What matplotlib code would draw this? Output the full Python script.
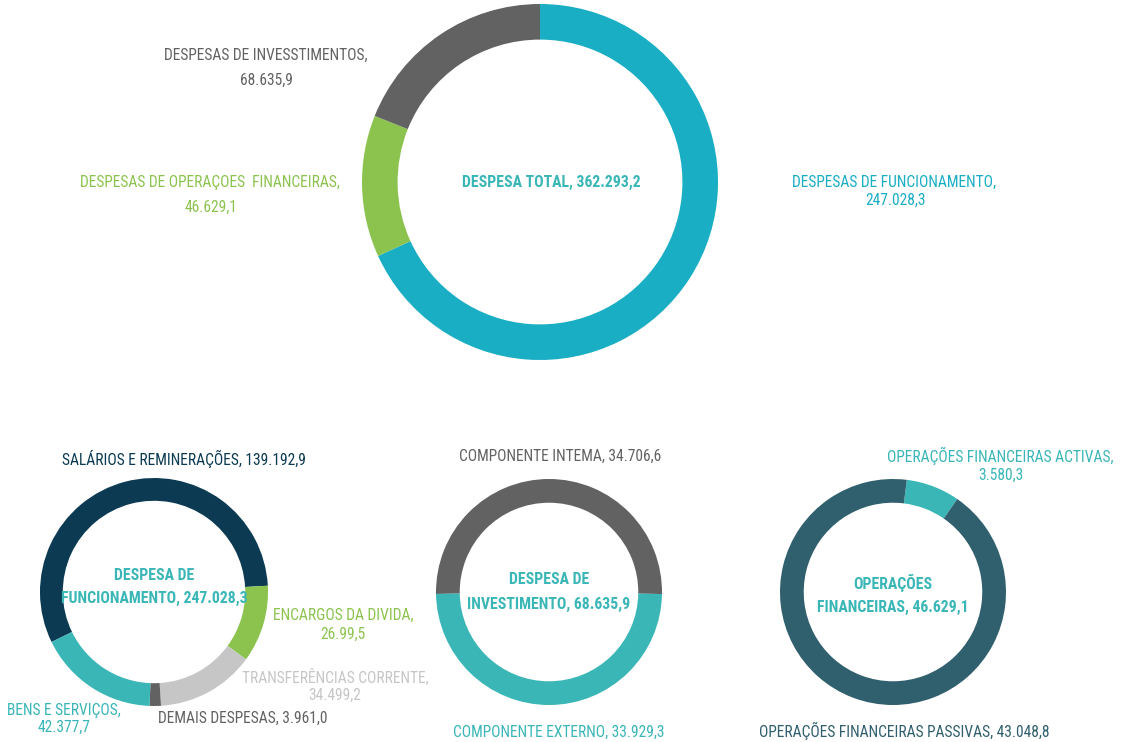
import matplotlib
matplotlib.use("Agg")
import matplotlib.pyplot as plt

W, H = 1126, 742
plt.rcParams['font.family'] = ['Roboto Condensed', 'DejaVu Sans']
plt.rcParams['font.stretch'] = 'condensed'

# ---- data ----
top_labels = ["DESPESAS DE FUNCIONAMENTO", "DESPESAS DE OPERAÇOES  FINANCEIRAS", "DESPESAS DE INVESSTIMENTOS"]
top_values = [247028.3, 46629.1, 68635.9]

func_labels = ["SALÁRIOS E REMINERAÇÕES", "ENCARGOS DA DIVIDA", "TRANSFERÊNCIAS CORRENTE", "DEMAIS DESPESAS", "BENS E SERVIÇOS"]
func_values = [139192.9, 26997.5, 34499.2, 3961.0, 42377.7]

inv_labels = ["COMPONENTE INTEMA", "COMPONENTE EXTERNO"]
inv_values = [34706.6, 33929.3]

fin_labels = ["OPERAÇÕES FINANCEIRAS ACTIVAS", "OPERAÇÕES FINANCEIRAS PASSIVAS"]
fin_values = [3580.3, 43048.8]

CYAN = "#19AEC4"
TEAL = "#3AB6B7"
GREEN = "#8CC34E"
GRAY = "#626262"
NAVY = "#0B3A52"
LGRAY = "#C6C6C6"
SLATE = "#305F6D"

NS = 11.2   # normal size
BS = 11.3   # bold size

fig = plt.figure(figsize=(W / 100, H / 100), dpi=100)
fig.patch.set_facecolor("white")


def donut(cx, cy, r, values, colors, start, width):
    ax = fig.add_axes([(cx - r) / W, 1 - (cy + r) / H, 2 * r / W, 2 * r / H])
    ax.pie(values, colors=colors, startangle=start, counterclock=False,
           radius=1, wedgeprops=dict(width=width, edgecolor="none"))
    ax.set_xlim(-1, 1)
    ax.set_ylim(-1, 1)
    ax.set_aspect("equal")
    ax.axis("off")
    return ax


def txt(x, y, s, color, bold=False):
    fig.text(x / W, 1 - y / H, s, color=color, fontsize=BS if bold else NS,
             ha="center", va="center", fontstretch="condensed",
             fontweight="bold" if bold else "normal")


# top donut
donut(540, 182, 178, top_values, [CYAN, GREEN, GRAY], 90, 0.2)
txt(266, 55, "DESPESAS DE INVESSTIMENTOS,", GRAY)
txt(266, 80, "68.635,9", GRAY)
txt(210, 182, "DESPESAS DE OPERAÇOES  FINANCEIRAS,", GREEN)
txt(211, 207, "46.629,1", GREEN)
txt(551, 182, "DESPESA TOTAL, 362.293,2", TEAL, True)
txt(894, 182, "DESPESAS DE FUNCIONAMENTO,", CYAN)
txt(896, 200, "247.028,3", CYAN)

# bottom left donut
donut(154, 592, 114, func_values, [NAVY, GREEN, LGRAY, GRAY, TEAL], 206, 0.2)
txt(184, 459, "SALÁRIOS E REMINERAÇÕES, 139.192,9", NAVY)
txt(154, 575, "DESPESA DE", TEAL, True)
txt(154, 598, "FUNCIONAMENTO, 247.028,3", TEAL, True)
txt(343, 615, "ENCARGOS DA DIVIDA,", GREEN)
txt(343, 634, "26.99,5", GREEN)
txt(335, 677, "TRANSFERÊNCIAS CORRENTE,", LGRAY)
txt(335, 695, "34.499,2", LGRAY)
txt(243, 718, "DEMAIS DESPESAS, 3.961,0", GRAY)
txt(64, 710, "BENS E SERVIÇOS,", TEAL)
txt(64, 727, "42.377,7", TEAL)

# middle donut
donut(549, 592, 113, inv_values, [GRAY, TEAL], 181, 0.21)
txt(560, 456, "COMPONENTE INTEMA, 34.706,6", GRAY)
txt(549, 580, "DESPESA DE", TEAL, True)
txt(549, 604, "INVESTIMENTO, 68.635,9", TEAL, True)
txt(559, 732, "COMPONENTE EXTERNO, 33.929,3", TEAL)

# right donut
donut(893, 592, 113, fin_values, [TEAL, SLATE], 83, 0.21)
txt(1000, 456, "OPERAÇÕES FINANCEIRAS ACTIVAS,", TEAL)
txt(1001, 475, "3.580,3", TEAL)
txt(893, 583, "OPERAÇÕES", TEAL, True)
txt(893, 607, "FINANCEIRAS, 46.629,1", TEAL, True)
txt(904, 731, "OPERAÇÕES FINANCEIRAS PASSIVAS, 43.048,8", SLATE)

fig.savefig("out.png", dpi=100, facecolor="white")
